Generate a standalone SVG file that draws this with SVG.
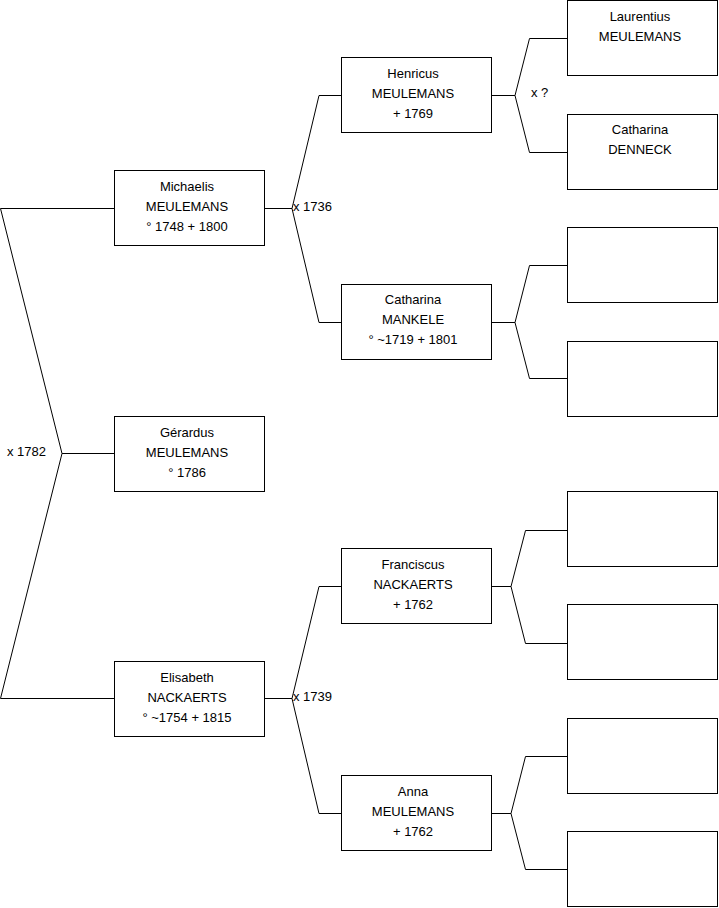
<svg xmlns="http://www.w3.org/2000/svg" width="719" height="908" viewBox="0 0 719 908">
<style>
.box{fill:#fff;stroke:#000;stroke-width:1}
.ln{fill:none;stroke:#000;stroke-width:1}
text{font-family:"Liberation Sans",Arial,sans-serif;font-size:13px;fill:#000}
.c{text-anchor:middle}
</style>
<rect width="719" height="908" fill="#fff"/>
<g id="connectors">
<path class="ln" d="M114,208.5H0.5L62,453.5L0.5,698.5H114"/>
<path class="ln" d="M62,453.5H114"/>
<path class="ln" d="M265,208.5H292L319,95.5H341M292,208.5L319,322.5H341"/>
<path class="ln" d="M265,698.5H292L319,586.5H341M292,698.5L319,813.5H341"/>
<path class="ln" d="M491,95.5H515L529.5,38.5H567M515,95.5L529.5,152.5H567"/>
<path class="ln" d="M491,322.5H515L529.5,265.5H567M515,322.5L529.5,378.5H567"/>
<path class="ln" d="M491,586.5H511L525.5,530.5H567M511,586.5L525.5,643.5H567"/>
<path class="ln" d="M491,813.5H511L525.5,756.5H567M511,813.5L525.5,869.5H567"/>
<text x="7" y="456">x 1782</text>
<text x="293" y="211">x 1736</text>
<text x="293" y="701">x 1739</text>
<text x="531" y="97">x ?</text>
</g>
<g id="michaelis"><rect class="box" x="114.5" y="170.5" width="150" height="75"/>
<text class="c" x="187" y="191">Michaelis</text><text class="c" x="187" y="211">MEULEMANS</text><text class="c" x="187" y="231">° 1748 + 1800</text></g>
<g id="gerardus"><rect class="box" x="114.5" y="416.5" width="150" height="75"/>
<text class="c" x="187" y="437">Gérardus</text><text class="c" x="187" y="457">MEULEMANS</text><text class="c" x="187" y="477">° 1786</text></g>
<g id="elisabeth"><rect class="box" x="114.5" y="661.5" width="150" height="75"/>
<text class="c" x="187" y="682">Elisabeth</text><text class="c" x="187" y="702">NACKAERTS</text><text class="c" x="187" y="722">° ~1754 + 1815</text></g>
<g id="henricus"><rect class="box" x="341.5" y="57.5" width="150" height="75"/>
<text class="c" x="413" y="78">Henricus</text><text class="c" x="413" y="98">MEULEMANS</text><text class="c" x="413" y="118">+ 1769</text></g>
<g id="catharina-mankele"><rect class="box" x="341.5" y="284.5" width="150" height="75"/>
<text class="c" x="413" y="304">Catharina</text><text class="c" x="413" y="324">MANKELE</text><text class="c" x="413" y="344">° ~1719 + 1801</text></g>
<g id="franciscus"><rect class="box" x="341.5" y="548.5" width="150" height="75"/>
<text class="c" x="413" y="569">Franciscus</text><text class="c" x="413" y="589">NACKAERTS</text><text class="c" x="413" y="609">+ 1762</text></g>
<g id="anna"><rect class="box" x="341.5" y="775.5" width="150" height="75"/>
<text class="c" x="413" y="796">Anna</text><text class="c" x="413" y="816">MEULEMANS</text><text class="c" x="413" y="836">+ 1762</text></g>
<g id="laurentius"><rect class="box" x="567.5" y="0.5" width="150" height="75"/>
<text class="c" x="640" y="21">Laurentius</text><text class="c" x="640" y="41">MEULEMANS</text></g>
<g id="catharina-denneck"><rect class="box" x="567.5" y="114.5" width="150" height="75"/>
<text class="c" x="640" y="134">Catharina</text><text class="c" x="640" y="154">DENNECK</text></g>
<g id="empty1"><rect class="box" x="567.5" y="227.5" width="150" height="75"/></g>
<g id="empty2"><rect class="box" x="567.5" y="341.5" width="150" height="75"/></g>
<g id="empty3"><rect class="box" x="567.5" y="491.5" width="150" height="75"/></g>
<g id="empty4"><rect class="box" x="567.5" y="604.5" width="150" height="75"/></g>
<g id="empty5"><rect class="box" x="567.5" y="718.5" width="150" height="75"/></g>
<g id="empty6"><rect class="box" x="567.5" y="831.5" width="150" height="75"/></g>
</svg>
